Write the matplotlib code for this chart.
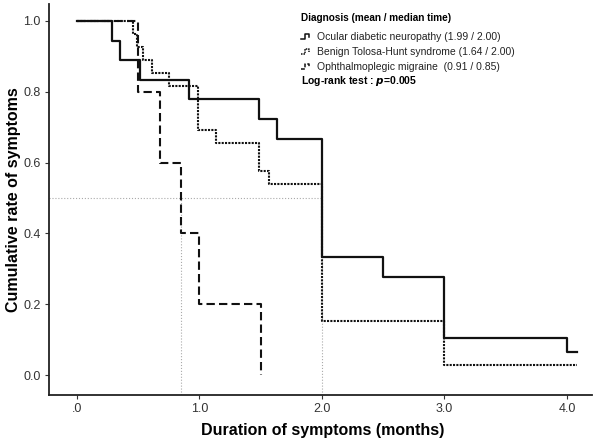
import matplotlib.pyplot as plt
from matplotlib.lines import Line2D

plt.rcParams['font.family'] = ['Liberation Sans', 'DejaVu Sans']

# Ocular diabetic neuropathy
odn_t = [0, 0.29, 0.355, 0.52, 0.92, 1.49, 1.63, 2.0, 2.5, 3.0, 4.0, 4.08]
odn_s = [1.0, 0.944, 0.889, 0.833, 0.778, 0.722, 0.667, 0.333, 0.278, 0.104, 0.065, 0.065]
# Benign Tolosa-Hunt syndrome
bth_t = [0, 0.46, 0.49, 0.545, 0.615, 0.75, 0.99, 1.14, 1.49, 1.57, 2.0, 3.0, 4.08]
bth_s = [1.0, 0.963, 0.926, 0.889, 0.852, 0.815, 0.692, 0.654, 0.577, 0.538, 0.154, 0.03, 0.03]
# Ophthalmoplegic migraine
om_t = [0, 0.5, 0.68, 0.85, 1.0, 1.5]
om_s = [1.0, 0.8, 0.6, 0.4, 0.2, 0.0]

legend_labels = ["Ocular diabetic neuropathy (1.99 / 2.00)",
                 "Benign Tolosa-Hunt syndrome (1.64 / 2.00)",
                 "Ophthalmoplegic migraine  (0.91 / 0.85)"]
medians = [0.85, 2.0]

xticks = [0, 1, 2, 3, 4]
xticklabels = [".0", "1.0", "2.0", "3.0", "4.0"]
yticks = [0.0, 0.2, 0.4, 0.6, 0.8, 1.0]

fig = plt.figure(figsize=(6, 4.43), dpi=100)
ax = fig.add_axes([0.082, 0.108, 0.904, 0.883])

# median reference lines
ax.plot([-0.224, medians[1]], [0.5, 0.5], color='#aaaaaa', lw=0.8, ls=':')
for m in medians:
    ax.plot([m, m], [-0.056, 0.5], color='#aaaaaa', lw=0.8, ls=':')

ax.step(odn_t, odn_s, where='post', color='#111111', lw=1.6, ls='-')
ax.step(bth_t, bth_s, where='post', color='#111111', lw=1.5, ls=(0, (1, 0.6)))
ax.step(om_t, om_s, where='post', color='#111111', lw=1.5, ls=(0, (4, 2)))

ax.set_xlim(-0.224, 4.2)
ax.set_ylim(-0.056, 1.047)
ax.set_xticks(xticks)
ax.set_xticklabels(xticklabels)
ax.set_yticks(yticks)
ax.set_yticklabels([f"{v:.1f}" for v in yticks])
ax.tick_params(labelsize=9, colors='#333333', length=3, width=0.8, pad=3)
for s in ['top', 'right']:
    ax.spines[s].set_visible(False)
for s in ['left', 'bottom']:
    ax.spines[s].set_linewidth(1.3)
    ax.spines[s].set_color('#222222')

ax.set_xlabel("Duration of symptoms (months)", fontsize=11.5, fontweight='bold', va='center')
ax.set_ylabel("Cumulative rate of symptoms", fontsize=11.5, fontweight='bold', va='center')
ax.xaxis.set_label_coords(0.505, -0.09)
ax.yaxis.set_label_coords(-0.065, 0.5)

# legend drawn as text block in the upper right
W, H = 600.0, 443.0
fig.text(301 / W, 1 - 18 / H, "Diagnosis (mean / median time)", fontsize=7.2,
         fontweight='bold', va='center', ha='left')
styles = ['-', (0, (1, 0.6)), (0, (2.5, 1.2))]
rows = [37, 52, 67]
for lab, st, yy in zip(legend_labels, styles, rows):
    xs = [301, 305, 305, 309, 309]
    ys = [yy + 2, yy + 2, yy - 3, yy - 3, yy]
    fig.add_artist(Line2D([x / W for x in xs], [1 - y / H for y in ys],
                          color='#111111', lw=1.1, ls=st))
    fig.text(317 / W, 1 - yy / H, lab, fontsize=7.5, va='center', ha='left',
             color='#222222')
fig.text(301 / W, 1 - 81 / H, r"Log-rank test : $\boldsymbol{p}$=0.005", fontsize=7.5,
         fontweight='bold', va='center', ha='left')

fig.savefig("out.png", dpi=100)
